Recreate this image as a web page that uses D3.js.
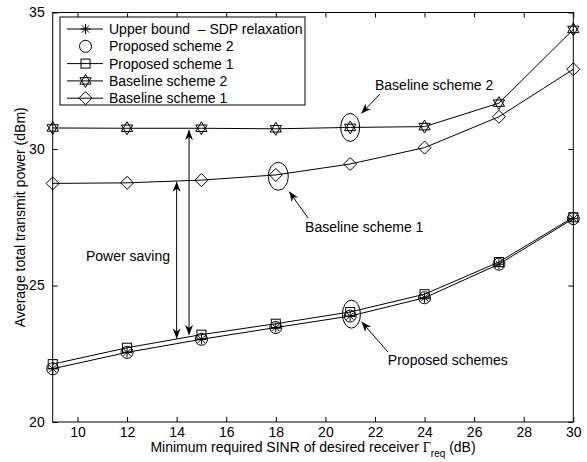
<!DOCTYPE html>
<html>
<head>
<meta charset="utf-8">
<title>Average total transmit power vs minimum required SINR</title>
<style>
  body { margin: 0; background: #fff; }
  svg { display: block; font-family: "Liberation Sans", Arial, Helvetica, sans-serif; }
  .axis text { font-size: 14px; fill: #000; }
  .axis line { stroke: #000; stroke-width: 1; }
  .axis path { display: none; }
  .series { fill: none; stroke: #000; stroke-width: 1; }
  .mark { fill: none; stroke: #000; stroke-width: 1; }
  .label { font-size: 14px; fill: #000; white-space: pre; }
  .note { fill: none; stroke: #000; stroke-width: 1; }
</style>
</head>
<body>
<script src="https://d3js.org/d3.v7.min.js"></script>
<script>
// values (dBm)
var sinr       = [9, 12, 15, 18, 21, 24, 27, 30];
var upperBound = [21.95, 22.55, 23.03, 23.46, 23.88, 24.55, 25.78, 27.45];
var proposed2  = [21.95, 22.55, 23.03, 23.46, 23.88, 24.55, 25.78, 27.45];
var proposed1  = [22.12, 22.72, 23.20, 23.60, 24.03, 24.68, 25.86, 27.50];
var baseline2  = [30.77, 30.76, 30.76, 30.74, 30.79, 30.82, 31.68, 34.38];
var baseline1  = [28.74, 28.76, 28.86, 29.05, 29.45, 30.05, 31.18, 32.92];

var xTicks = [10, 12, 14, 16, 18, 20, 22, 24, 26, 28, 30];
var yTicks = [20, 25, 30, 35];
var legendNames = ["Upper bound  \u2013 SDP relaxation", "Proposed scheme 2",
                   "Proposed scheme 1", "Baseline scheme 2", "Baseline scheme 1"];

var W = 587, H = 462;
var plot = {left: 52.7, right: 573.3, top: 12.5, bottom: 422};

var x = d3.scaleLinear().domain([9, 30]).range([plot.left, plot.right]);
var y = d3.scaleLinear().domain([20, 35]).range([plot.bottom, plot.top]);

var svg = d3.select("body").append("svg")
    .attr("width", W)
    .attr("height", H);

// axes, ticks pointing inwards like matlab
svg.append("g").attr("class", "axis")
    .attr("transform", "translate(0," + plot.bottom + ")")
    .call(d3.axisBottom(x).tickValues(xTicks).tickSizeInner(-5).tickSizeOuter(0).tickPadding(5));
svg.append("g").attr("class", "axis")
    .attr("transform", "translate(0," + plot.top + ")")
    .call(d3.axisTop(x).tickValues(xTicks).tickSizeInner(-5).tickSizeOuter(0).tickFormat(""));
svg.append("g").attr("class", "axis")
    .attr("transform", "translate(" + plot.left + ",0)")
    .call(d3.axisLeft(y).tickValues(yTicks).tickSizeInner(-5).tickSizeOuter(0).tickPadding(8));
svg.append("g").attr("class", "axis")
    .attr("transform", "translate(" + plot.right + ",0)")
    .call(d3.axisRight(y).tickValues(yTicks).tickSizeInner(-5).tickSizeOuter(0).tickFormat(""));

svg.append("rect")
    .attr("x", plot.left).attr("y", plot.top)
    .attr("width", plot.right - plot.left).attr("height", plot.bottom - plot.top)
    .attr("fill", "none").attr("stroke", "#000");

// axis titles
var xt = svg.append("text").attr("class", "label")
    .attr("x", (plot.left + plot.right) / 2).attr("y", 452)
    .attr("text-anchor", "middle");
xt.append("tspan").text("Minimum required SINR of desired receiver ");
xt.append("tspan").attr("font-family", "'Liberation Serif', 'Times New Roman', serif").text("\u0393");
xt.append("tspan").attr("font-size", "10px").attr("dy", 5).text("req");
xt.append("tspan").attr("dy", -5).text(" (dB)");

svg.append("text").attr("class", "label")
    .attr("transform", "translate(25," + ((plot.top + plot.bottom) / 2) + ") rotate(-90)")
    .attr("text-anchor", "middle")
    .text("Average total transmit power (dBm)");

// marker drawing
function drawMarker(g, type, cx, cy) {
    if (type == "circle") {
        g.append("circle").attr("class", "mark").attr("cx", cx).attr("cy", cy).attr("r", 6);
    } else if (type == "square") {
        g.append("rect").attr("class", "mark").attr("x", cx - 4.5).attr("y", cy - 4.5)
            .attr("width", 9).attr("height", 9);
    } else if (type == "diamond") {
        g.append("path").attr("class", "mark")
            .attr("d", "M" + cx + "," + (cy - 6.5) + "L" + (cx + 6.5) + "," + cy +
                 "L" + cx + "," + (cy + 6.5) + "L" + (cx - 6.5) + "," + cy + "Z");
    } else if (type == "hexagram") {
        var r = 6.5, d = "";
        [-90, 90].forEach(function(a0) {
            for (var k = 0; k < 3; k++) {
                var a = (a0 + k * 120) * Math.PI / 180;
                d += (k == 0 ? "M" : "L") + (cx + r * Math.cos(a)) + "," + (cy + r * Math.sin(a));
            }
            d += "Z";
        });
        g.append("path").attr("class", "mark").attr("d", d);
    } else if (type == "asterisk") {
        var s = 5, t = 3.6, p = "";
        p += "M" + (cx - s) + "," + cy + "L" + (cx + s) + "," + cy;
        p += "M" + cx + "," + (cy - s) + "L" + cx + "," + (cy + s);
        p += "M" + (cx - t) + "," + (cy - t) + "L" + (cx + t) + "," + (cy + t);
        p += "M" + (cx - t) + "," + (cy + t) + "L" + (cx + t) + "," + (cy - t);
        g.append("path").attr("class", "mark").attr("d", p);
    }
}

var series = [
    {name: legendNames[0], values: upperBound, marker: "asterisk", line: true},
    {name: legendNames[1], values: proposed2,  marker: "circle",   line: false},
    {name: legendNames[2], values: proposed1,  marker: "square",   line: true},
    {name: legendNames[3], values: baseline2,  marker: "hexagram", line: true},
    {name: legendNames[4], values: baseline1,  marker: "diamond",  line: true}
];

var line = d3.line()
    .x(function(d) { return x(d[0]); })
    .y(function(d) { return y(d[1]); });

series.forEach(function(s) {
    var pts = sinr.map(function(v, i) { return [v, s.values[i]]; });
    var g = svg.append("g");
    if (s.line) g.append("path").attr("class", "series").attr("d", line(pts));
    pts.forEach(function(p) { drawMarker(g, s.marker, x(p[0]), y(p[1])); });
});

// annotations (data coordinates)
function arrowHead(g, x1, y1, x2, y2) {
    var dx = x2 - x1, dy = y2 - y1, len = Math.sqrt(dx * dx + dy * dy);
    var ux = dx / len, uy = dy / len, nx = -uy, ny = ux;
    var L = 10, w = 4, notch = 3;
    var bx = x2 - L * ux, by = y2 - L * uy;
    g.append("path")
        .attr("d", "M" + x2 + "," + y2 +
            "L" + (bx + w * nx) + "," + (by + w * ny) +
            "L" + (x2 - (L - notch) * ux) + "," + (y2 - (L - notch) * uy) +
            "L" + (bx - w * nx) + "," + (by - w * ny) + "Z")
        .attr("fill", "#000");
}

function arrow(g, a, b, both) {
    var x1 = x(a[0]), y1 = y(a[1]), x2 = x(b[0]), y2 = y(b[1]);
    g.append("line").attr("class", "note")
        .attr("x1", x1).attr("y1", y1).attr("x2", x2).attr("y2", y2);
    arrowHead(g, x1, y1, x2, y2);
    if (both) arrowHead(g, x2, y2, x1, y1);
}

var notes = svg.append("g");

var ellipses = [
    {x: 21, y: 30.79, rx: 9.5, ry: 14},
    {x: 18.1, y: 29.0, rx: 10, ry: 14},
    {x: 21.05, y: 23.95, rx: 9, ry: 14}
];
ellipses.forEach(function(e) {
    notes.append("ellipse").attr("class", "note")
        .attr("cx", x(e.x)).attr("cy", y(e.y)).attr("rx", e.rx).attr("ry", e.ry);
});

var pointers = [
    {from: [22.2, 32.01], to: [21.45, 31.3]},
    {from: [19.3, 27.47], to: [18.54, 28.44]},
    {from: [22.52, 22.57], to: [21.46, 23.67]}
];
pointers.forEach(function(p) { arrow(notes, p.from, p.to, false); });

var savingArrows = [
    {x: 14, top: 28.8, bottom: 23.06},
    {x: 14.5, top: 30.7, bottom: 23.19}
];
savingArrows.forEach(function(s) { arrow(notes, [s.x, s.top], [s.x, s.bottom], true); });

var captions = [
    {text: "Baseline scheme 2", x: 22.0, y: 32.16, anchor: "start"},
    {text: "Baseline scheme 1", x: 19.18, y: 26.96, anchor: "start"},
    {text: "Proposed schemes", x: 22.52, y: 22.09, anchor: "start"},
    {text: "Power saving", x: 13.73, y: 25.9, anchor: "end"}
];
captions.forEach(function(c) {
    notes.append("text").attr("class", "label")
        .attr("x", x(c.x)).attr("y", y(c.y))
        .attr("text-anchor", c.anchor)
        .text(c.text);
});

// legend
var lg = svg.append("g");
lg.append("rect").attr("x", 60).attr("y", 17).attr("width", 245).attr("height", 88)
    .attr("fill", "#fff").attr("stroke", "#000");
series.forEach(function(s, i) {
    var cy = 29 + i * 17.3;
    if (s.line) lg.append("line").attr("class", "series")
        .attr("x1", 67).attr("x2", 103).attr("y1", cy).attr("y2", cy);
    drawMarker(lg, s.marker, 85.5, cy);
    lg.append("text").attr("class", "label")
        .attr("x", 109).attr("y", cy + 5)
        .text(s.name);
});
</script>
</body>
</html>
